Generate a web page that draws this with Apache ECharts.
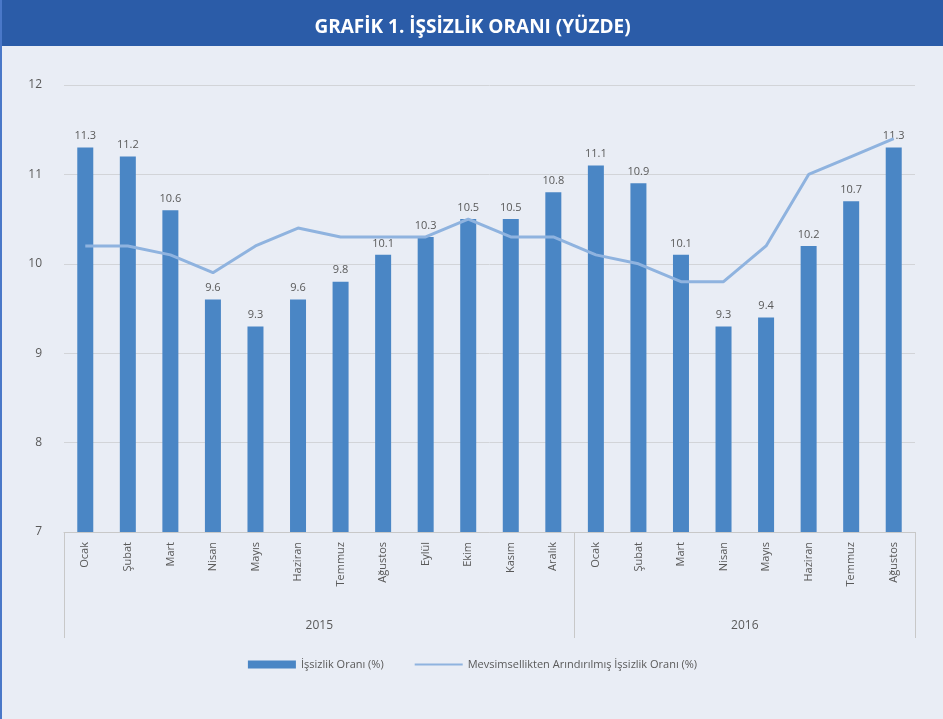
<!DOCTYPE html>
<html lang="tr">
  <head>
    <meta charset="UTF-8" />
    <title>İşsizlik Oranı</title>
    <script src="https://cdn.jsdelivr.net/npm/echarts@6/dist/echarts.min.js"></script>
    <style>
      body { margin: 0; background: #e9edf5; }
      #main { width: 943px; height: 719px; box-sizing: border-box; border-left: 2px solid #4a78c8; }
    </style>
  </head>
  <body>
    <div id="main"></div>
    <script type="text/javascript">
      // months (2015 Ocak .. 2016 Ağustos)
      let months = ["Ocak", "Şubat", "Mart", "Nisan", "Mayıs", "Haziran", "Temmuz", "Ağustos", "Eylül", "Ekim", "Kasım", "Aralık",
        "Ocak", "Şubat", "Mart", "Nisan", "Mayıs", "Haziran", "Temmuz", "Ağustos"];
      let years = ["2015", "2016"];
      let yearLengths = [12, 8];

      let issizlik = [11.3, 11.2, 10.6, 9.6, 9.3, 9.6, 9.8, 10.1, 10.3, 10.5, 10.5, 10.8,
        11.1, 10.9, 10.1, 9.3, 9.4, 10.2, 10.7, 11.3];
      let mevsimsel = [10.2, 10.2, 10.1, 9.9, 10.2, 10.4, 10.3, 10.3, 10.3, 10.5, 10.3, 10.3,
        10.1, 10.0, 9.8, 9.8, 10.2, 11.0, 11.2, 11.4];

      // year group boundaries and centres on a 0..20 scale
      let bounds = [0];
      let centres = [];
      yearLengths.forEach((n) => {
        let start = bounds[bounds.length - 1];
        centres.push(start + n / 2);
        bounds.push(start + n);
      });

      let myChart = echarts.init(document.getElementById("main"));

      let options = {
        textStyle: { fontFamily: "Open Sans" },
        title: {
          text: "GRAFİK 1. İŞSİZLİK ORANI (YÜZDE)",
          left: "center",
          top: 13,
          textStyle: { color: "#ffffff", fontSize: 19, fontWeight: "bold", fontFamily: "Open Sans" },
        },
        graphic: [
          {
            type: "rect",
            left: 0,
            top: 0,
            z: -1,
            shape: { width: 943, height: 46 },
            style: { fill: "#2b5ca8" },
          },
        ],
        grid: { left: 62, right: 28, top: 85, bottom: 187 },
        legend: {
          bottom: 44,
          left: "center",
          itemWidth: 48,
          itemHeight: 8,
          itemGap: 30,
          textStyle: { color: "#595959", fontSize: 11 },
          data: [
            { name: "İşsizlik Oranı (%)", icon: "rect" },
            { name: "Mevsimsellikten Arındırılmış İşsizlik Oranı (%)", itemStyle: { opacity: 0 } },
          ],
        },
        xAxis: [
          {
            type: "category",
            data: months,
            axisLine: { lineStyle: { color: "#c8c8c8" } },
            axisTick: { show: false },
            axisLabel: { rotate: 90, color: "#595959", fontSize: 11, margin: 10 },
          },
          {
            type: "value",
            min: 0,
            max: 20,
            position: "bottom",
            axisLine: { show: false },
            splitLine: { show: false },
            axisTick: { show: true, customValues: bounds, length: 106, lineStyle: { color: "#c8c8c8" } },
            axisLabel: {
              customValues: centres,
              margin: 88,
              color: "#595959",
              fontSize: 12,
              formatter: (v) => years[centres.indexOf(v)],
            },
          },
        ],
        yAxis: {
          type: "value",
          min: 7,
          max: 12,
          interval: 1,
          axisLine: { show: false },
          axisTick: { show: false },
          axisLabel: { color: "#595959", fontSize: 12, margin: 22 },
          splitLine: { lineStyle: { color: "#d2d4d8" } },
        },
        series: [
          {
            name: "İşsizlik Oranı (%)",
            type: "bar",
            data: issizlik,
            barWidth: 16,
            itemStyle: { color: "#4a86c5" },
            label: { show: true, position: "top", color: "#595959", fontSize: 11, distance: 6 },
          },
          {
            name: "Mevsimsellikten Arındırılmış İşsizlik Oranı (%)",
            type: "line",
            data: mevsimsel,
            symbol: "none",
            lineStyle: { color: "#8fb3df", width: 3 },
            itemStyle: { color: "#8fb3df" },
          },
        ],
      };

      myChart.setOption(options);
    </script>
  </body>
</html>
